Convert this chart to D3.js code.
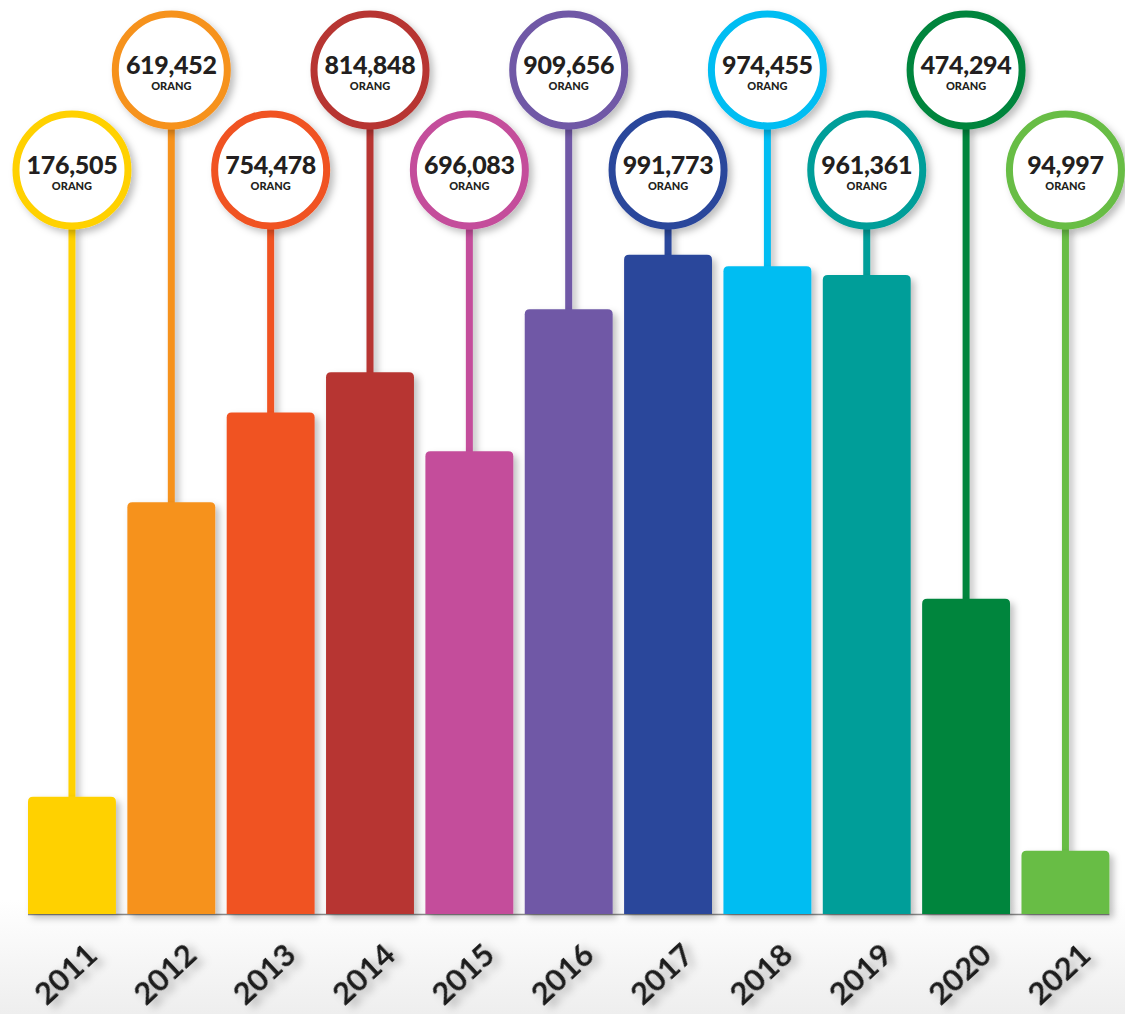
<!DOCTYPE html>
<html>
<head>
<meta charset="utf-8">
<script src="https://cdn.jsdelivr.net/npm/d3@7"></script>
<style>
  body { margin: 0; background: #fff; }
  svg { display: block; }
</style>
</head>
<body>
<script>
var years = ["2011","2012","2013","2014","2015","2016","2017","2018","2019","2020","2021"];
var values = [176505, 619452, 754478, 814848, 696083, 909656, 991773, 974455, 961361, 474294, 94997];
var colors = ["#FFD100","#F6921E","#F05223","#B73530","#C44E9B","#6F58A6","#2B469B","#00BDF2","#009E99","#00853E","#68BD45"];
var unitLabel = "ORANG";

var data = years.map((y, i) => ({ year: y, value: values[i], color: colors[i], i: i }));

var W = 1125, H = 1014, base = 914;

var svg = d3.select('body')
    .append('svg')
    .attr('width', W)
    .attr('height', H);

var defs = svg.append('defs');
var f = defs.append('filter').attr('id', 'shadow')
    .attr('filterUnits', 'userSpaceOnUse')
    .attr('x', 0).attr('y', 0).attr('width', W).attr('height', H);
f.append('feDropShadow').attr('dx', 4).attr('dy', 4).attr('stdDeviation', 3.5)
    .attr('flood-color', '#000').attr('flood-opacity', 0.25);

var ft = defs.append('filter').attr('id', 'shadowText')
    .attr('x', '-30%').attr('y', '-60%').attr('width', '160%').attr('height', '220%');
ft.append('feDropShadow').attr('dx', 3).attr('dy', 6).attr('stdDeviation', 4)
    .attr('flood-color', '#000').attr('flood-opacity', 0.3);

var bg = defs.append('linearGradient').attr('id', 'bg').attr('x1', 0).attr('y1', 0).attr('x2', 0).attr('y2', 1);
bg.append('stop').attr('offset', '0%').attr('stop-color', '#ffffff');
bg.append('stop').attr('offset', '100%').attr('stop-color', '#eeeeee');

svg.append('rect').attr('x', 0).attr('y', 900).attr('width', W).attr('height', H - 900).attr('fill', 'url(#bg)');

var x = d3.scaleBand()
    .domain(years)
    .range([28, 1109.4])
    .paddingInner(0.115)
    .paddingOuter(0);

var y = d3.scaleLinear()
    .domain([0, 1375000])
    .range([base, 0]);

var rowY = i => i % 2 === 0 ? 170 : 70;
var R = 56;
var cx = d => x(d.year) + x.bandwidth() / 2;

// baseline
svg.append('line')
    .attr('x1', x(years[0])).attr('x2', x(years[years.length - 1]) + x.bandwidth())
    .attr('y1', base + 0.5).attr('y2', base + 0.5)
    .attr('stroke', '#8a8a8a').attr('stroke-width', 1.5);

var g = svg.selectAll('g.item')
    .data(data)
    .enter()
    .append('g')
    .attr('class', 'item');

// stems
g.append('rect')
    .attr('x', d => cx(d) - 3.5)
    .attr('width', 7)
    .attr('y', d => rowY(d.i) + R)
    .attr('height', d => y(d.value) + 2 - rowY(d.i) - R)
    .attr('fill', d => d.color)
    .attr('filter', 'url(#shadow)');

// bars with rounded top corners
function barPath(d) {
    var x0 = x(d.year), w = x.bandwidth(), t = y(d.value), r = 5;
    return `M${x0},${base} L${x0},${t + r} Q${x0},${t} ${x0 + r},${t} L${x0 + w - r},${t} Q${x0 + w},${t} ${x0 + w},${t + r} L${x0 + w},${base} Z`;
}
g.append('path')
    .attr('d', barPath)
    .attr('fill', d => d.color)
    .attr('filter', 'url(#shadow)');

// bubbles
g.append('circle')
    .attr('cx', cx)
    .attr('cy', d => rowY(d.i))
    .attr('r', R)
    .attr('fill', '#fff')
    .attr('stroke', d => d.color)
    .attr('stroke-width', 7)
    .attr('filter', 'url(#shadow)');

g.append('text')
    .text(d => d3.format(',')(d.value))
    .attr('x', cx)
    .attr('y', d => rowY(d.i) + 4)
    .attr('text-anchor', 'middle')
    .attr('font-family', 'Lato, sans-serif')
    .attr('font-weight', 900)
    .attr('font-size', 25)
    .attr('letter-spacing', -0.3)
    .attr('fill', '#231f20');

g.append('text')
    .text(unitLabel)
    .attr('x', cx)
    .attr('y', d => rowY(d.i) + 20)
    .attr('text-anchor', 'middle')
    .attr('font-family', 'Lato, sans-serif')
    .attr('font-weight', 900)
    .attr('font-size', 11)
    .attr('fill', '#231f20');

// year labels
g.append('text')
    .text(d => d.year)
    .attr('transform', d => `translate(${cx(d) + 1},${982}) rotate(-43)`)
    .attr('text-anchor', 'middle')
    .attr('font-family', 'Lato, sans-serif')
    .attr('font-weight', 700)
    .attr('font-size', 31)
    .attr('fill', '#1a1a1a')
    .attr('filter', 'url(#shadowText)');
</script>
</body>
</html>
